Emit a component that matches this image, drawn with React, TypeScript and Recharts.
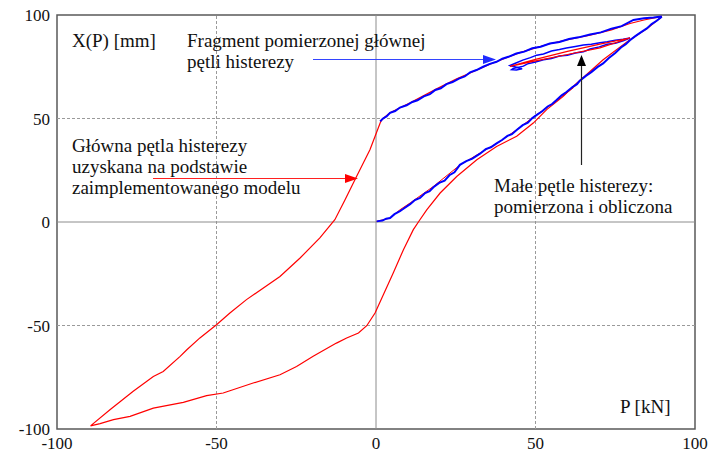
import React from "react";
import { LineChart, Line, XAxis, YAxis, ReferenceLine, ReferenceArea } from "recharts";

// Model (red): main hysteresis loop, ascending then descending branch
const modelMainLoop: [number, number][] = [
  [-89.5, -98.5], [-86.5, -97.4], [-82.3, -95.5], [-77.1, -93.9], [-69.8, -89.9], [-60.4, -87.1],
  [-53.1, -83.9], [-47.9, -82.6], [-38.5, -77.8], [-30.1, -73.8], [-24.9, -69.8], [-19.7, -64.9],
  [-12.4, -58.5], [-9.2, -56], [-5.5, -53.6], [-2.9, -50.1], [-0.3, -44], [2.3, -35.1], [5.4, -24.6],
  [8.6, -13.4], [11.7, -3.7], [13.5, 0.5], [15.9, 5.9], [20.1, 14], [25.3, 22], [31.6, 30.1],
  [37.8, 36.5], [44.1, 41.4], [49.3, 47.8], [53.5, 54.3], [58.7, 60.7], [62.9, 67.1], [65.5, 70.5],
  [71.2, 78.4], [79.6, 88.1], [85, 93.5], [89.6, 99.3],
  [84, 97.6], [79.6, 95.9], [73.8, 92.8], [67.1, 90.3], [60.5, 88.2], [54.5, 86.1], [49, 83.6],
  [45.1, 81.8], [41.5, 79.7], [35.7, 76.2], [29.5, 72], [25.3, 69.2], [19, 64.3], [10.7, 57.6],
  [4.4, 52.8], [1.8, 49.4], [1.3, 47.8], [-1.9, 34.9], [-6.1, 22], [-9.7, 10.7], [-12.9, 1.1],
  [-17.6, -7.7], [-23.8, -17.4], [-30.1, -26.3], [-40.6, -37.5], [-45.8, -44], [-50, -49.6],
  [-55.2, -56], [-59.3, -61.7], [-61.4, -64.9], [-66.7, -72.2], [-69.8, -74.6], [-76.1, -81.8],
  [-83.4, -90.7], [-89.5, -98.5],
];

// Model (red): initial curve from zero
const modelInitial: [number, number][] = [
  [0.2, 0.3], [4.4, 1.9], [7.5, 5.9], [10.7, 9.2], [18, 17.2], [26.3, 27.5], [32.6, 33.3],
  [38.9, 38.9], [44.1, 44.6], [50.3, 51.8], [56.6, 58.5], [62, 65], [65.5, 70.5],
];

// Model (red): small loop
const modelSmallLoop: [number, number][] = [
  [79.6, 88.9], [70.2, 84.1], [60, 80.9], [49.3, 77.6], [42, 75.2],
  [50, 78.6], [60, 82.4], [70.2, 85.9], [79.6, 88.9],
];

// Measured (blue): lower branch from zero to the peak
const measuredLower: [number, number][] = [
  [0.2, 0.3], [2, 0.7], [3.2, 1.6], [4.4, 1.9], [5.8, 3.8], [7.5, 5.2], [8.6, 6.4], [10.7, 8.6],
  [12.2, 10.6], [13.8, 11.6], [15.4, 14], [16.8, 14.9], [18, 16.8], [19.8, 18.9], [21.5, 20],
  [23, 22.6], [24.6, 24], [26.3, 27.6], [28.3, 29.4], [30.2, 30.6], [32.6, 33], [34.4, 35.2],
  [36, 36.1], [37.8, 38], [39.5, 39.6], [41.2, 41.6], [42.6, 42.4], [44.1, 44.4], [46, 46.8],
  [47.6, 48], [49, 50.2], [50.3, 51.6], [52.1, 53.5], [53.8, 55.8], [55.2, 57], [56.6, 58.9],
  [58.2, 61.2], [59.7, 62.8], [61.5, 65.1], [63, 66.6], [63.9, 68.3], [65.8, 70.6], [67.5, 72.4],
  [69.4, 74.8], [71.2, 76.6], [73, 79.2], [75, 81.6], [76.8, 84.3], [78.3, 85.9], [79.6, 87.8],
  [81.4, 89.9], [83, 91.6], [84.9, 93.5], [86.4, 95.6], [88, 97.2], [89.6, 99.2],
];

// Measured (blue): upper branch of the main loop
const measuredUpper: [number, number][] = [
  [1.3, 48.6], [2.2, 50], [3.3, 51], [4.4, 52.7], [6, 53.6], [7.5, 55.3], [9.6, 56.4], [11.4, 58],
  [13, 58.8], [15, 60.7], [16.9, 61.8], [18.6, 63.8], [20.3, 64.6], [22.1, 66.6], [24, 67.6],
  [26, 69.3], [27.8, 70.3], [29.5, 72.3], [31.5, 73.4], [33.6, 75], [35.7, 76.4], [37.8, 77.4],
  [39.6, 78.9], [41.5, 79.8], [44, 81.4], [46.5, 82.3], [49, 83.9], [51.6, 84.7], [54.5, 86.2],
  [57.5, 87], [60.5, 88.4], [63.5, 89.2], [67.1, 90.6], [70.5, 91.6], [73.8, 93.4], [77, 94.6],
  [80.7, 97.6], [84, 98.4], [87, 98.8], [89.6, 99.3],
];

// Measured (blue): small loop
const measuredSmallLoop: [number, number][] = [
  [79.6, 88.9], [77.5, 87.6], [75, 86.4], [72.5, 85.9], [70, 84.6], [67.1, 83.6], [65, 82.2],
  [62.5, 81.6], [60, 80.6], [57.5, 80.2], [55, 79], [52.5, 78.4], [50, 77.3], [47.5, 76.4],
  [46.2, 75.3], [44.5, 74.7], [43, 74.2], [42.5, 73.6], [44, 73.4], [45.8, 74], [44, 74.8],
  [42, 75.6], [43.5, 76.6], [46, 78.2], [48.4, 79.4], [50.4, 80.6], [52.5, 81.2], [55, 82.6],
  [57.5, 83.3], [59.7, 84.1], [62.5, 84.8], [65, 85.5], [67.5, 85.9], [70.2, 86.6], [72.5, 87.1],
  [75, 87.8], [77.5, 88.3], [79.6, 88.9],
];

const ticks = [-100, -50, 0, 50, 100];

const toPts = (arr: [number, number][]) => arr.map(([x, y]) => ({ x, y }));

const font = "Liberation Serif, Times New Roman, DejaVu Serif, serif";
const tickStyle = { fill: "#111", fontSize: 17, fontFamily: font };

export default function App() {
  return (
    <div style={{ position: "absolute", left: 0, top: 0, width: 708, height: 455, background: "#fff" }}>
      <LineChart width={708} height={455} margin={{ top: 15, right: 13, bottom: 0, left: 0 }}>
        <XAxis
          type="number"
          dataKey="x"
          domain={[-100, 100]}
          ticks={ticks}
          allowDataOverflow
          height={26}
          axisLine={false}
          tickLine={false}
          tickSize={0}
          tickMargin={8}
          tick={tickStyle}
        />
        <YAxis
          type="number"
          dataKey="y"
          domain={[-100, 100]}
          ticks={ticks}
          allowDataOverflow
          width={57}
          axisLine={false}
          tickLine={false}
          tickSize={0}
          tickMargin={7}
          tick={tickStyle}
        />
        <ReferenceLine x={-50} stroke="#9a9a9a" strokeDasharray="3 2" />
        <ReferenceLine x={50} stroke="#9a9a9a" strokeDasharray="3 2" />
        <ReferenceLine y={-50} stroke="#9a9a9a" strokeDasharray="3 2" />
        <ReferenceLine y={50} stroke="#9a9a9a" strokeDasharray="3 2" />
        <ReferenceLine x={0} stroke="#8c8c8c" />
        <ReferenceLine y={0} stroke="#8c8c8c" />
        <ReferenceArea x1={-100} x2={100} y1={-100} y2={100} fill="none" stroke="#5a5a5a" strokeWidth={1.5} />

        {/* model under measurement on the main branches */}
        <Line data={toPts(modelMainLoop)} dataKey="y" stroke="#ff0000" strokeWidth={1.2} dot={false} isAnimationActive={false} />
        <Line data={toPts(modelInitial)} dataKey="y" stroke="#ff0000" strokeWidth={1} dot={false} isAnimationActive={false} />

        <Line data={toPts(measuredLower)} dataKey="y" stroke="#0000ff" strokeWidth={2} dot={false} isAnimationActive={false} />
        <Line data={toPts(measuredUpper)} dataKey="y" stroke="#0000ff" strokeWidth={2} dot={false} isAnimationActive={false} />
        <Line data={toPts(measuredSmallLoop)} dataKey="y" stroke="#0000ff" strokeWidth={1.5} dot={false} isAnimationActive={false} />

        <Line data={toPts(modelSmallLoop)} dataKey="y" stroke="#ff0000" strokeWidth={1.2} dot={false} isAnimationActive={false} />
      </LineChart>

      {/* annotations */}
      <svg width={708} height={455} style={{ position: "absolute", left: 0, top: 0, pointerEvents: "none" }}>
        <g fontFamily={font} fontSize={19} fill="#111">
          <text x={72} y={47}>X(P) [mm]</text>
          <text x={187} y={47}>Fragment pomierzonej głównej</text>
          <text x={187} y={68}>pętli histerezy</text>
          <text x={72} y={152}>Główna pętla histerezy</text>
          <text x={72} y={173}>uzyskana na podstawie</text>
          <text x={72} y={194}>zaimplementowanego modelu</text>
          <text x={494} y={192}>Małe pętle histerezy:</text>
          <text x={494} y={213}>pomierzona i obliczona</text>
          <text x={620} y={413}>P [kN]</text>
        </g>
        <line x1={313} y1={59.5} x2={486} y2={59.5} stroke="#3344ff" strokeWidth={1.2} />
        <polygon points="496,59.5 483,55 483,64" fill="#1f2bff" />
        <line x1={153} y1={178.5} x2={348} y2={178.5} stroke="#ff2020" strokeWidth={1.2} />
        <polygon points="358,178.5 345,174 345,183" fill="#ff0000" />
        <line x1={581.5} y1={165} x2={581.5} y2={64} stroke="#222" strokeWidth={1.2} />
        <polygon points="581.5,55 577,66 586,66" fill="#000" />
      </svg>
    </div>
  );
}
